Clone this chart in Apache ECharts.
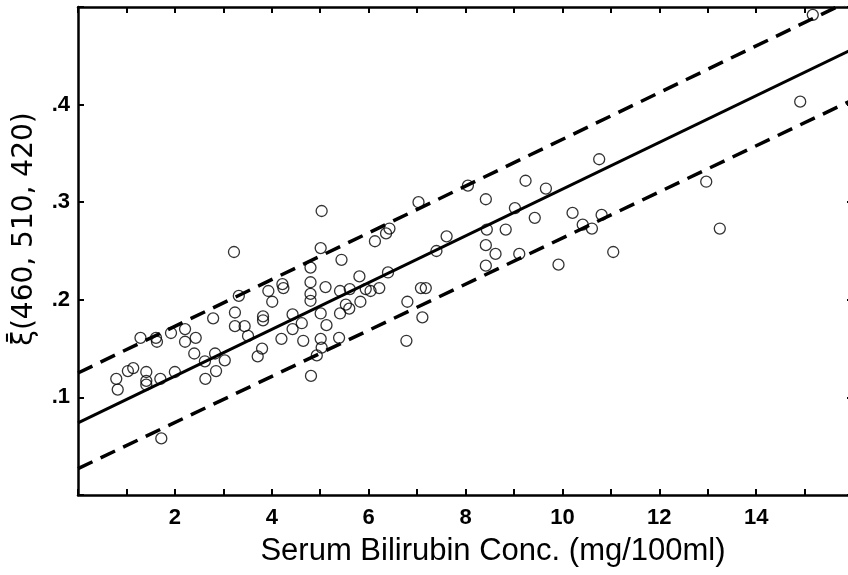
<!DOCTYPE html>
<html>
<head>
<meta charset="utf-8">
<script src="https://cdn.jsdelivr.net/npm/echarts@6/dist/echarts.min.js"></script>
<style>
html,body{margin:0;padding:0;background:#fff;}
#chart{width:848px;height:575px;}
</style>
</head>
<body>
<div id="chart"></div>
<script>
// Scatter data: [bilirubin (mg/100ml), xi value]
const points = [
[0.79,0.119],[0.82,0.108],[1.03,0.127],[1.14,0.130],[1.29,0.161],[1.41,0.126],[1.41,0.117],[1.41,0.113],
[1.61,0.161],[1.63,0.157],[1.70,0.119],[1.72,0.058],[1.92,0.166],[2.00,0.126],[2.21,0.170],[2.21,0.157],
[2.43,0.161],[2.40,0.145],[2.62,0.137],[2.63,0.119],[2.79,0.181],[2.83,0.145],[2.85,0.127],[3.03,0.138],
[3.22,0.249],[3.32,0.204],[3.24,0.187],[3.24,0.173],[3.44,0.173],[3.51,0.163],[3.71,0.142],[3.80,0.150],
[3.82,0.183],[3.82,0.179],[3.93,0.209],[4.01,0.198],[4.20,0.160],[4.22,0.216],[4.24,0.212],[4.43,0.185],
[4.43,0.170],[4.62,0.176],[4.65,0.158],[4.80,0.233],[4.80,0.218],[4.80,0.206],[4.80,0.199],[4.81,0.122],
[4.93,0.143],[5.01,0.253],[5.03,0.291],[5.01,0.186],[5.01,0.160],[5.03,0.151],[5.11,0.213],[5.13,0.174],
[5.39,0.161],[5.41,0.209],[5.41,0.186],[5.44,0.241],[5.53,0.195],[5.60,0.191],[5.61,0.211],[5.81,0.224],
[5.83,0.198],[5.94,0.211],[6.04,0.209],[6.13,0.260],[6.22,0.212],[6.36,0.268],[6.43,0.273],[6.40,0.228],
[6.78,0.158],[6.80,0.198],[7.03,0.300],[7.08,0.212],[7.18,0.212],[7.11,0.182],[7.40,0.250],[7.61,0.265],
[8.05,0.317],[8.42,0.303],[8.44,0.272],[8.42,0.256],[8.42,0.235],[8.62,0.247],[8.83,0.272],[9.02,0.294],
[9.11,0.247],[9.24,0.322],[9.43,0.284],[9.66,0.314],[9.92,0.236],[10.21,0.289],[10.42,0.277],[10.61,0.273],
[10.76,0.344],[10.81,0.287],[11.05,0.249],[12.97,0.321],[13.25,0.273],[14.91,0.403],[15.17,0.492]
];
// Regression line and confidence band endpoints
const lineX = [0, 16];
const fitY = [0.074, 0.457];
const upperY = [0.125, 0.508];
const lowerY = [0.027, 0.405];
const xLabels = ['2','4','6','8','10','12','14'];
const yLabels = ['.1','.2','.3','.4'];
const xTitle = 'Serum Bilirubin Conc. (mg/100ml)';
const yTitle = 'ξ\u0304(460, 510, 420)';

const pair = (ys) => lineX.map((x, i) => [x, ys[i]]);

const chart = echarts.init(document.getElementById('chart'), null, {renderer: 'canvas'});
const lblFont = {color: '#000', fontFamily: 'Liberation Sans, Arial, sans-serif', fontWeight: 'bold', fontSize: 22};
const axisLine = {show: true, onZero: false, lineStyle: {color: '#000', width: 2.5}};
const tick = {show: true, inside: true, length: 6, lineStyle: {color: '#000', width: 2}};

chart.setOption({
  animation: false,
  backgroundColor: '#fff',
  grid: {left: 78, width: 775, top: 7, bottom: 80, containLabel: false, outerBoundsMode: 'none'},
  xAxis: [{
    type: 'value', min: 0, max: 16, interval: 1, position: 'bottom',
    axisLine: axisLine, axisTick: tick, splitLine: {show: false},
    axisLabel: Object.assign({margin: 12, formatter: v => xLabels.indexOf(String(v)) >= 0 ? String(v) : ''}, lblFont)
  }, {
    type: 'value', min: 0, max: 16, interval: 1, position: 'top',
    axisLine: axisLine, axisTick: tick, splitLine: {show: false}, axisLabel: {show: false}
  }],
  yAxis: [{
    type: 'value', min: 0, max: 0.5, interval: 0.1, position: 'left',
    axisLine: axisLine, axisTick: tick, splitLine: {show: false},
    axisLabel: Object.assign({margin: 8, formatter: v => {
      const s = '.' + Math.round(v * 10);
      return yLabels.indexOf(s) >= 0 ? s : '';
    }}, lblFont)
  }, {
    type: 'value', min: 0, max: 0.5, interval: 0.1, position: 'right',
    axisLine: axisLine, axisTick: tick, splitLine: {show: false}, axisLabel: {show: false}
  }],
  graphic: [{
    type: 'text', x: 493, y: 551,
    style: {text: xTitle, fill: '#000', font: '31px "Liberation Sans", Arial, sans-serif', align: 'center', verticalAlign: 'middle'}
  }, {
    type: 'text', x: 25, y: 229, rotation: Math.PI / 2,
    style: {text: yTitle, fill: '#000', font: '28px "DejaVu Sans", "Liberation Sans", sans-serif', align: 'center', verticalAlign: 'middle'}
  }],
  series: [{
    type: 'scatter', data: points, symbol: 'circle', symbolSize: 11,
    itemStyle: {color: 'rgba(0,0,0,0)', borderColor: '#000', borderWidth: 1.3}, z: 3
  }, {
    type: 'line', data: pair(fitY), showSymbol: false, symbol: 'none', clip: true,
    lineStyle: {color: '#000', width: 3}
  }, {
    type: 'line', data: pair(upperY), showSymbol: false, symbol: 'none', clip: true,
    lineStyle: {color: '#000', width: 3.5, type: [16, 9]}
  }, {
    type: 'line', data: pair(lowerY), showSymbol: false, symbol: 'none', clip: true,
    lineStyle: {color: '#000', width: 3.5, type: [16, 9]}
  }]
});
</script>
</body>
</html>
